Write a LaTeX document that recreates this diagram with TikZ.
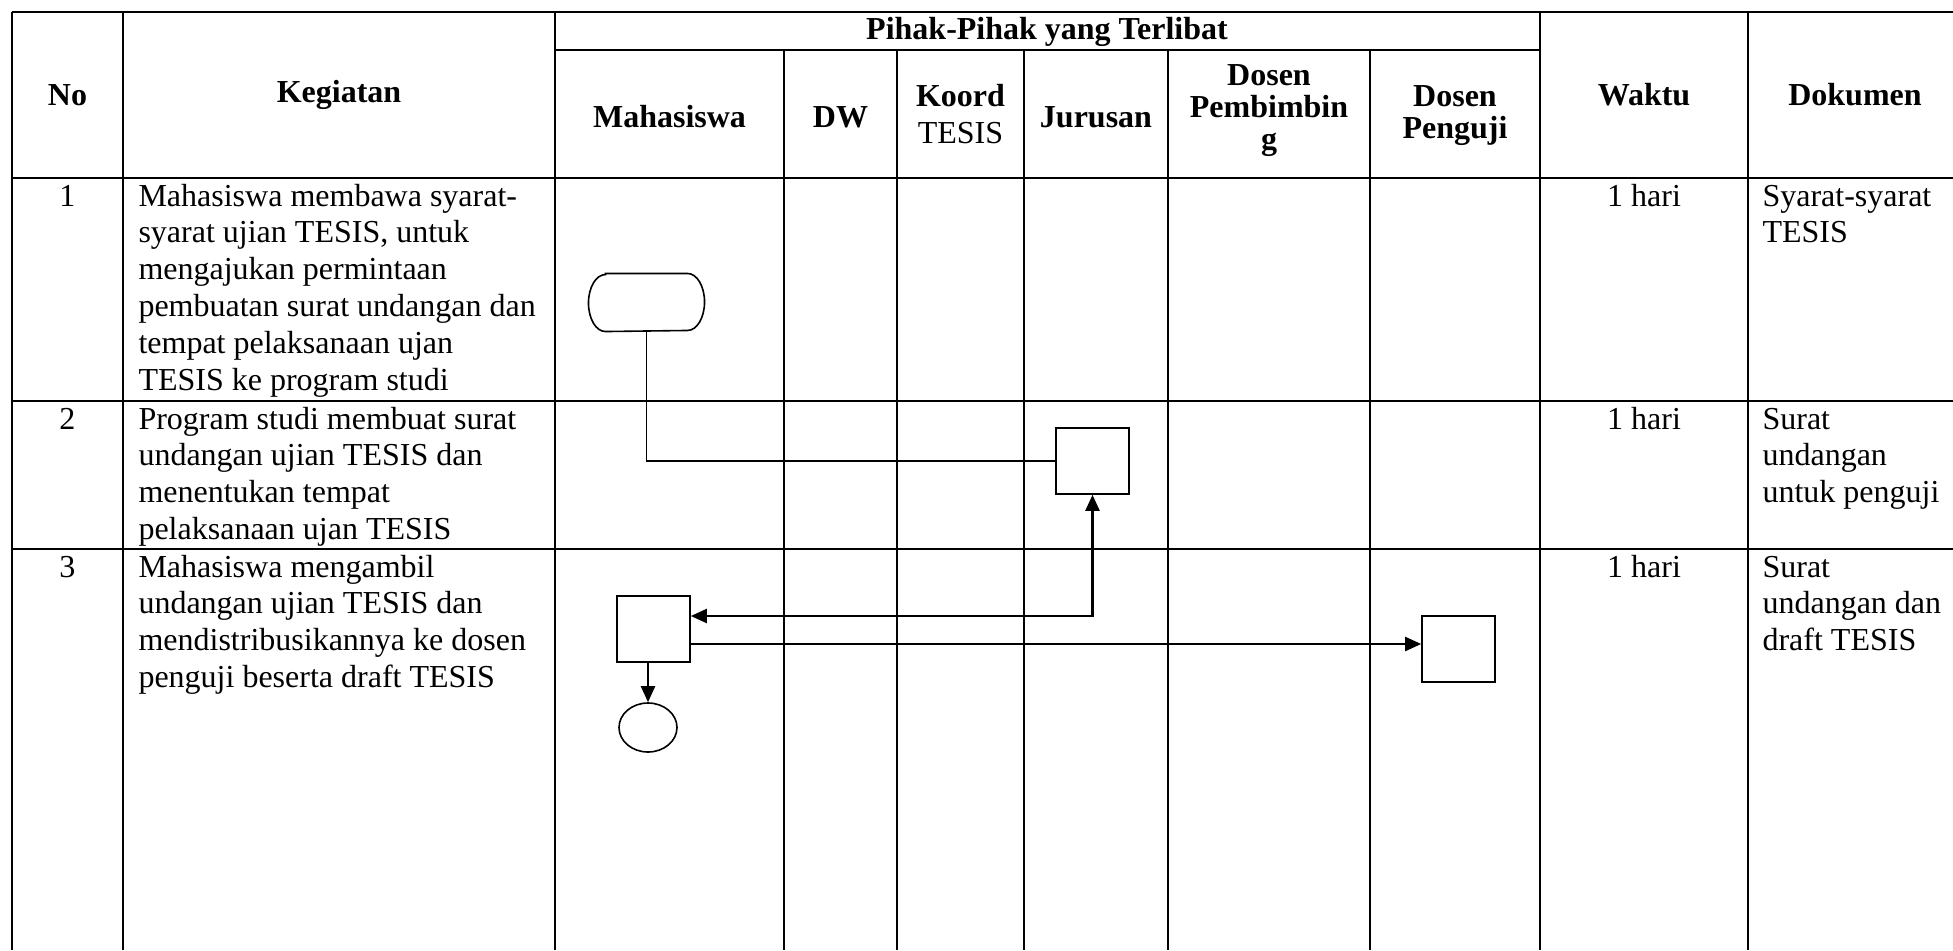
\documentclass[tikz,border=0pt]{standalone}
\usepackage{fontspec}
\setmainfont{Liberation Serif}
\usetikzlibrary{arrows.meta,calc,shapes.geometric}
\begin{document}
\begin{tikzpicture}[x=0.375pt,y=-0.375pt,
  gridline/.style={line width=0.75pt},
  shapeline/.style={line width=0.6pt},
  conn/.style={line width=0.85pt},
  tip/.style={-{Triangle[length=6pt,width=5.25pt]}},
  txt/.style={font=\fontsize{12}{13.8}\selectfont, inner sep=0pt},
  hdr/.style={inner sep=0pt, font=\fontsize{12}{13.8}\selectfont\bfseries, align=center},
  hdrtight/.style={inner sep=0pt, font=\fontsize{12}{12}\selectfont\bfseries, align=center},
  cell/.style={txt, anchor=base west},
  ctr/.style={txt, anchor=base},
  procbox/.style={draw, shapeline, minimum width=27.375pt, minimum height=24.75pt, inner sep=0pt},
  termbox/.style={draw=none, minimum width=43.125pt, minimum height=21.375pt, inner sep=0pt},
  endbox/.style={draw, shapeline, ellipse, minimum width=21.75pt, minimum height=18.375pt, inner sep=0pt}
]
\useasboundingbox (0,0) rectangle (1953,950);
\fill[white] (0,0) rectangle (1953,950);

% grid
\draw[gridline] (12,12) -- (1953,12);
\draw[gridline] (555,50) -- (1539,50);
\draw[gridline] (12,178) -- (1953,178);
\draw[gridline] (12,401) -- (1953,401);
\draw[gridline] (12,549) -- (1953,549);
\draw[gridline] (12,12) -- (12,950);
\draw[gridline] (123,12) -- (123,950);
\draw[gridline] (555,12) -- (555,950);
\draw[gridline] (784,50) -- (784,950);
\draw[gridline] (897,50) -- (897,950);
\draw[gridline] (1024,50) -- (1024,950);
\draw[gridline] (1168,50) -- (1168,950);
\draw[gridline] (1370,50) -- (1370,950);
\draw[gridline] (1540,12) -- (1540,950);
\draw[gridline] (1748,12) -- (1748,950);

% header
\node[hdr] (hno) at (67.5,95) {No};
\node[hdr] (hkeg) at (339,95) {Kegiatan};
\node[hdr, anchor=base] (hpihak) at (1047,39) {Pihak-Pihak yang Terlibat};
\node[hdr] (hmhs) at (669.5,117) {Mahasiswa};
\node[hdr] (hdw) at (840.5,117) {DW};
\node[hdr] (hkoord) at (960.5,114) {Koord\\\mdseries TESIS};
\node[hdr] (hjur) at (1096,117) {Jurusan};
\node[hdrtight] (hdp) at (1269,111) {Dosen\\Pembimbin\\g};
\node[hdrtight] (hdpg) at (1455,116) {Dosen\\Penguji};
\node[hdr] (hwaktu) at (1644,95) {Waktu};
\node[hdr] (hdok) at (1855,95) {Dokumen};

% row 1
\node[ctr] (n1) at (67.5,206) {1};
\node[cell] (k1) at (138,206) {\begin{tabular}[t]{@{}l@{}}Mahasiswa membawa syarat-\\syarat ujian TESIS, untuk\\mengajukan permintaan\\pembuatan surat undangan dan\\tempat pelaksanaan ujan\\TESIS ke program studi\end{tabular}};
\node[ctr] (w1) at (1644,206) {1 hari};
\node[cell] (d1) at (1762,206) {\begin{tabular}[t]{@{}l@{}}Syarat-syarat\\TESIS\end{tabular}};

% row 2
\node[ctr] (n2) at (67.5,429) {2};
\node[cell] (k2) at (138,429) {\begin{tabular}[t]{@{}l@{}}Program studi membuat surat\\undangan ujian TESIS dan\\menentukan tempat\\pelaksanaan ujan TESIS\end{tabular}};
\node[ctr] (w2) at (1644,429) {1 hari};
\node[cell] (d2) at (1762,429) {\begin{tabular}[t]{@{}l@{}}Surat\\undangan\\untuk penguji\end{tabular}};

% row 3
\node[ctr] (n3) at (67.5,577) {3};
\node[cell] (k3) at (138,577) {\begin{tabular}[t]{@{}l@{}}Mahasiswa mengambil\\undangan ujian TESIS dan\\mendistribusikannya ke dosen\\penguji beserta draft TESIS\end{tabular}};
\node[ctr] (w3) at (1644,577) {1 hari};
\node[cell] (d3) at (1762,577) {\begin{tabular}[t]{@{}l@{}}Surat\\undangan dan\\draft TESIS\end{tabular}};

% flow shapes
\node[termbox] (t1) at (646.5,302.5) {};
\draw[shapeline] ($(t1.north west)+(17,0)$) -- ($(t1.north east)+(-17,0)$)
  arc[start angle=90,end angle=-90,x radius=6.375pt,y radius=10.6875pt]
  -- ($(t1.south west)+(17,0)$)
  arc[start angle=270,end angle=90,x radius=6.375pt,y radius=10.6875pt] -- cycle;
\node[procbox] (j2) at (1092.5,461) {};
\node[procbox] (m3) at (653.5,629) {};
\node[procbox] (p3) at (1458.5,649) {};
\node[endbox] (e3) at (648,727.5) {};

% connectors
\draw[conn, line width=0.7pt] (t1.south) |- (j2.west);
\coordinate (m3in) at ($(m3.east)+(0,-13)$);
\draw[conn, {Triangle[length=6pt,width=5.25pt]}-{Triangle[length=6pt,width=5.25pt]}] (m3in) -| (j2.south);
\coordinate (m3out) at ($(m3.east)+(0,15)$);
\draw[conn, tip] (m3out) -- (m3out -| p3.west);
\draw[conn, tip] (m3.south -| e3.north) -- (e3.north);
\end{tikzpicture}
\end{document}
